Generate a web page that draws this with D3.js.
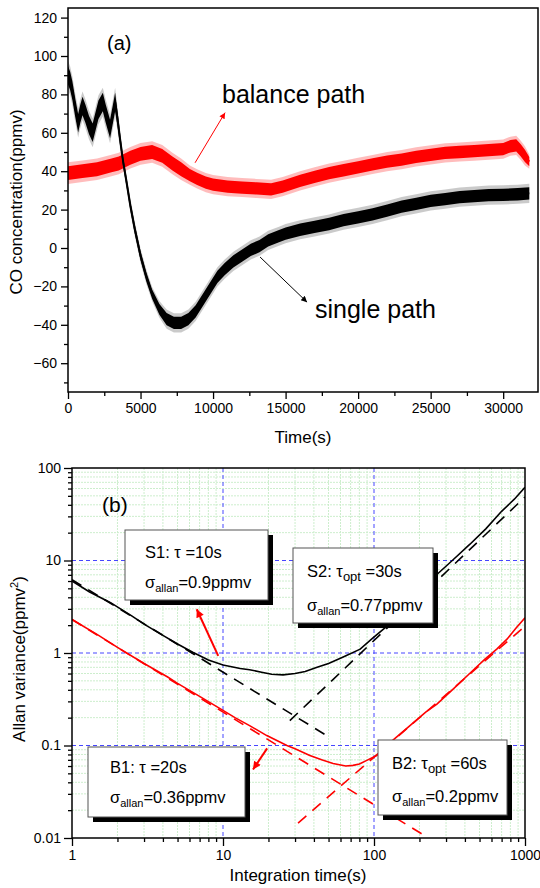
<!DOCTYPE html>
<html>
<head>
<meta charset="utf-8">
<script src="https://cdn.jsdelivr.net/npm/d3@7"></script>
<style>
  body { margin: 0; background: #fff; }
</style>
</head>
<body>
<div id="chart"></div>
<script>
// ---------- panel (a): CO concentration vs time ----------
// [time (s), centre of noisy trace (ppmv), half spread of noise band (ppmv)]
const singlePath = [
  [0, 90, 6], [150, 87, 6], [300, 82, 6], [500, 73, 6], [700, 65, 6], [850, 70, 6],
  [1000, 74, 6], [1200, 70, 6], [1450, 64, 6], [1700, 60, 6], [1900, 66, 6], [2100, 72, 6],
  [2400, 76, 6], [2600, 70, 6], [2900, 62, 6], [3100, 70, 6], [3250, 76, 6], [3400, 68, 5],
  [3600, 56, 4], [3800, 45, 3], [4000, 36, 3], [4300, 22, 3], [4600, 10, 3], [5000, -4, 3],
  [5400, -15, 3], [5800, -24, 3], [6300, -32, 3.5], [6800, -37, 4], [7300, -39, 4], [7800, -39, 4],
  [8300, -37, 4], [8800, -33, 4], [9300, -27, 4], [9800, -21, 4], [10300, -15, 4], [10800, -11, 4],
  [11400, -7, 4], [12000, -4, 4], [12600, -1, 4], [13200, 1, 4], [13800, 4, 4], [14500, 6, 4],
  [15000, 7.5, 4], [16000, 9.5, 4], [17000, 11, 4], [18000, 12.5, 4], [19000, 14.5, 4], [20000, 16, 4],
  [21000, 17.5, 4], [22000, 19.5, 4], [23000, 21.5, 4], [24000, 23, 4], [25000, 24.5, 4], [26000, 25.5, 4],
  [27000, 26.5, 4], [28000, 27, 4], [29000, 27.5, 4], [30000, 27.7, 4], [31000, 28, 4], [31800, 28.5, 4]
];
const balancePath = [
  [0, 39, 4.5], [1000, 40, 4.5], [2000, 41, 4.5], [3000, 43, 4.5], [3500, 44, 4.5], [4300, 47, 4.5],
  [5000, 49, 4.5], [5800, 50, 4.5], [6500, 48, 4.5], [7200, 44, 4.5], [7800, 41, 4.5], [8400, 38, 4],
  [8900, 36, 4], [9500, 34, 4], [10000, 33, 4], [11000, 32, 4], [12000, 31.5, 4], [13000, 31, 4],
  [14000, 30.5, 4], [14800, 32, 4], [16000, 35, 4], [17000, 37, 4], [18000, 39, 4], [19000, 40.5, 4],
  [20000, 42, 4], [21000, 43.5, 4], [22000, 45, 4], [23000, 46, 4], [24000, 47.5, 4], [25000, 48.5, 4],
  [26000, 49.5, 4], [27000, 50, 4], [28000, 50.5, 4], [29000, 51, 4], [30000, 51.5, 4], [30500, 53, 4],
  [30900, 53.5, 4], [31200, 51, 4], [31500, 48, 4], [31800, 45, 3]
];
const timeTicks = [0, 5000, 10000, 15000, 20000, 25000, 30000];
const concTicks = [-60, -40, -20, 0, 20, 40, 60, 80, 100, 120];

// ---------- panel (b): Allan variance ----------
// [integration time (s), Allan variance (ppmv^2)]
const singleAllan = [
  [1, 6.0], [1.3, 4.6], [1.8, 3.5], [2.5, 2.5], [3, 2.05], [4, 1.55], [5, 1.25], [6.3, 1.02],
  [8, 0.84], [10, 0.74], [13, 0.68], [15, 0.66], [18, 0.62], [21, 0.59], [25, 0.58], [30, 0.6],
  [35, 0.63], [42, 0.7], [50, 0.77], [62, 0.9], [81, 1.1], [98, 1.45], [122, 1.95], [150, 2.7],
  [200, 4.4], [262, 7.1], [330, 10], [432, 15], [550, 22], [700, 34], [850, 46], [1000, 62]
];
const balanceAllan = [
  [1, 2.3], [1.5, 1.55], [2, 1.15], [3, 0.77], [4.3, 0.55], [5, 0.47], [7, 0.34], [10, 0.24],
  [12, 0.2], [15, 0.164], [19.5, 0.128], [26.5, 0.1], [30, 0.092], [37.6, 0.078], [45, 0.07],
  [53.6, 0.064], [65, 0.06], [72.6, 0.061], [80, 0.063], [89.6, 0.069], [104, 0.078], [130, 0.11],
  [170, 0.16], [220, 0.23], [261, 0.28], [330, 0.4], [430, 0.6], [543, 0.86], [650, 1.1],
  [760, 1.41], [870, 1.85], [1000, 2.4]
];
// fitted slopes (dashed), end points
const singleFitWhite = [[1, 6.2], [51, 0.122]];
const singleFitDrift = [[27.7, 0.186], [1000, 48.6]];
const balanceFitWhite = [[1, 2.3], [225, 0.0102]];
const balanceFitDrift = [[31.4, 0.0145], [1000, 1.95]];
const tauTicks = [1, 10, 100, 1000];
const allanTicks = [0.01, 0.1, 1, 10, 100];

// box texts: each line is a list of [text, isSubscript]
const boxTexts = {
  S1: [[["S1: τ =10s", 0]], [["σ", 0], ["allan", 1], ["=0.9ppmv", 0]]],
  S2: [[["S2: τ", 0], ["opt", 1], [" =30s", 0]], [["σ", 0], ["allan", 1], ["=0.77ppmv", 0]]],
  B1: [[["B1: τ =20s", 0]], [["σ", 0], ["allan", 1], ["=0.36ppmv", 0]]],
  B2: [[["B2: τ", 0], ["opt", 1], [" =60s", 0]], [["σ", 0], ["allan", 1], ["=0.2ppmv", 0]]]
};

// ---------- layout ----------
const W = 540, H = 888;
const font = '"Liberation Sans", Arial, Helvetica, sans-serif';

const svg = d3.select("#chart").append("svg")
  .attr("width", W).attr("height", H)
  .attr("font-family", font);

const defs = svg.append("defs");
function marker(id, color, len, wid) {
  defs.append("marker")
    .attr("id", id)
    .attr("viewBox", "0 0 10 10")
    .attr("refX", 10).attr("refY", 5)
    .attr("markerUnits", "userSpaceOnUse")
    .attr("markerWidth", len).attr("markerHeight", wid)
    .attr("orient", "auto")
    .append("path").attr("d", "M0,0L10,5L0,10z").attr("fill", color);
}
marker("arrRedA", "#f00", 9, 6);
marker("arrBlkA", "#000", 9, 6);
marker("arrRedB", "#f00", 12, 8);

function styleAxis(g, size) {
  g.attr("font-family", font).attr("font-size", size);
  g.select(".domain").remove();
  g.selectAll(".tick line").attr("stroke", "#000").attr("stroke-width", 1.3);
  g.selectAll(".tick text").attr("fill", "#000");
}

// ================= panel (a) =================
const xa = d3.scaleLinear().domain([0, 32400]).range([68, 538]);
const ya = d3.scaleLinear().domain([-75, 125]).range([392, 8]);

defs.append("clipPath").attr("id", "clipA").append("rect")
  .attr("x", xa.range()[0]).attr("y", ya.range()[1])
  .attr("width", xa.range()[1] - xa.range()[0]).attr("height", ya.range()[0] - ya.range()[1]);

const band = k => d3.area()
  .x(d => xa(d[0]))
  .y0(d => ya(d[1] - d[2] * k))
  .y1(d => ya(d[1] + d[2] * k));
const centre = d3.line().x(d => xa(d[0])).y(d => ya(d[1]));

const gA = svg.append("g").attr("clip-path", "url(#clipA)");
[[balancePath, "#ff0000", "#ff4040"], [singlePath, "#000000", "#666666"]].forEach(([data, c, fringe]) => {
  gA.append("path").datum(data).attr("d", band(1.25)).attr("fill", fringe).attr("opacity", 0.35);
  gA.append("path").datum(data).attr("d", band(0.8)).attr("fill", c);
  gA.append("path").datum(data).attr("d", centre)
    .attr("fill", "none").attr("stroke", c).attr("stroke-width", 2);
});

svg.append("rect")
  .attr("x", 68).attr("y", 8).attr("width", 470).attr("height", 384)
  .attr("fill", "none").attr("stroke", "#000").attr("stroke-width", 1.5);

const minorConc = d3.range(-70, 125, 10).filter(v => !concTicks.includes(v));
const minorTime = d3.range(2500, 32400, 5000);

styleAxis(svg.append("g").attr("transform", "translate(68,0)")
  .call(d3.axisLeft(ya).tickValues(concTicks).tickSize(7).tickPadding(4).tickSizeOuter(0)), 14);
styleAxis(svg.append("g").attr("transform", "translate(68,0)")
  .call(d3.axisLeft(ya).tickValues(minorConc).tickSize(4).tickFormat("").tickSizeOuter(0)), 14);
styleAxis(svg.append("g").attr("transform", "translate(0,392)")
  .call(d3.axisBottom(xa).tickValues(timeTicks).tickSize(7).tickPadding(4).tickFormat(d3.format("d")).tickSizeOuter(0)), 14);
styleAxis(svg.append("g").attr("transform", "translate(0,392)")
  .call(d3.axisBottom(xa).tickValues(minorTime).tickSize(4).tickFormat("").tickSizeOuter(0)), 14);

svg.append("text").attr("transform", "translate(22,202) rotate(-90)")
  .attr("text-anchor", "middle").attr("font-size", 17).text("CO concentration(ppmv)");
svg.append("text").attr("x", 303).attr("y", 443)
  .attr("text-anchor", "middle").attr("font-size", 17).text("Time(s)");
svg.append("text").attr("x", 107).attr("y", 50).attr("font-size", 20).text("(a)");

svg.append("text").attr("x", 222).attr("y", 103).attr("font-size", 25).text("balance path");
svg.append("text").attr("x", 315).attr("y", 318).attr("font-size", 25).text("single path");

svg.append("line")
  .attr("x1", xa(8760)).attr("y1", ya(44.4)).attr("x2", xa(10830)).attr("y2", ya(70.5))
  .attr("stroke", "#f00").attr("stroke-width", 1).attr("marker-end", "url(#arrRedA)");
svg.append("line")
  .attr("x1", xa(13240)).attr("y1", ya(-4.7)).attr("x2", xa(16480)).attr("y2", ya(-28.2))
  .attr("stroke", "#000").attr("stroke-width", 1).attr("marker-end", "url(#arrBlkA)");

// ================= panel (b) =================
const xb = d3.scaleLog().domain([1, 1000]).range([72, 525]);
const yb = d3.scaleLog().domain([0.01, 100]).range([838, 468]);
const isDecade = v => Math.abs(Math.log10(v) - Math.round(Math.log10(v))) < 1e-6;

defs.append("clipPath").attr("id", "clipB").append("rect")
  .attr("x", 72).attr("y", 468).attr("width", 453).attr("height", 370);

const grid = svg.append("g");
const xAll = xb.ticks(), yAll = yb.ticks();
grid.selectAll(".gxm").data(xAll.filter(v => !isDecade(v))).join("line")
  .attr("x1", d => xb(d)).attr("x2", d => xb(d)).attr("y1", 468).attr("y2", 838)
  .attr("stroke", "#cdeecd").attr("stroke-width", 1).attr("stroke-dasharray", "2,1");
grid.selectAll(".gym").data(yAll.filter(v => !isDecade(v))).join("line")
  .attr("y1", d => yb(d)).attr("y2", d => yb(d)).attr("x1", 72).attr("x2", 525)
  .attr("stroke", "#cdeecd").attr("stroke-width", 1).attr("stroke-dasharray", "2,1");
grid.selectAll(".gxM").data(tauTicks.slice(1, -1)).join("line")
  .attr("x1", d => xb(d)).attr("x2", d => xb(d)).attr("y1", 468).attr("y2", 838)
  .attr("stroke", "#4646ff").attr("stroke-width", 1).attr("stroke-dasharray", "4,3");
grid.selectAll(".gyM").data(allanTicks.slice(1, -1)).join("line")
  .attr("y1", d => yb(d)).attr("y2", d => yb(d)).attr("x1", 72).attr("x2", 525)
  .attr("stroke", "#4646ff").attr("stroke-width", 1).attr("stroke-dasharray", "4,3");

const gB = svg.append("g").attr("clip-path", "url(#clipB)");
const lineB = d3.line().x(d => xb(d[0])).y(d => yb(d[1]));
[[singleFitWhite, "#000"], [singleFitDrift, "#000"], [balanceFitWhite, "#f00"], [balanceFitDrift, "#f00"]]
  .forEach(([data, c]) => {
    gB.append("path").datum(data).attr("d", lineB)
      .attr("fill", "none").attr("stroke", c).attr("stroke-width", 1.6).attr("stroke-dasharray", "11,8");
  });
[[singleAllan, "#000"], [balanceAllan, "#f00"]].forEach(([data, c]) => {
  gB.append("path").datum(data).attr("d", lineB)
    .attr("fill", "none").attr("stroke", c).attr("stroke-width", 1.6);
});

svg.append("rect")
  .attr("x", 72).attr("y", 468).attr("width", 453).attr("height", 370)
  .attr("fill", "none").attr("stroke", "#000").attr("stroke-width", 1.5);

styleAxis(svg.append("g").attr("transform", "translate(72,0)")
  .call(d3.axisLeft(yb).tickValues(allanTicks).tickSize(8).tickPadding(3).tickFormat(d => String(d)).tickSizeOuter(0)), 14);
styleAxis(svg.append("g").attr("transform", "translate(72,0)")
  .call(d3.axisLeft(yb).tickValues(yAll.filter(v => !isDecade(v))).tickSize(4).tickFormat("").tickSizeOuter(0)), 14);
styleAxis(svg.append("g").attr("transform", "translate(0,838)")
  .call(d3.axisBottom(xb).tickValues(tauTicks).tickSize(8).tickPadding(4).tickFormat(d => String(d)).tickSizeOuter(0)), 14);
styleAxis(svg.append("g").attr("transform", "translate(0,838)")
  .call(d3.axisBottom(xb).tickValues(xAll.filter(v => !isDecade(v))).tickSize(4).tickFormat("").tickSizeOuter(0)), 14);

const yT = svg.append("text").attr("transform", "translate(25,659) rotate(-90)")
  .attr("text-anchor", "middle").attr("font-size", 17);
yT.append("tspan").text("Allan variance(ppmv");
yT.append("tspan").attr("font-size", 11).attr("dy", -7).text("2");
yT.append("tspan").attr("dy", 7).text(")");
svg.append("text").attr("x", 298).attr("y", 881)
  .attr("text-anchor", "middle").attr("font-size", 17).text("Integration time(s)");
svg.append("text").attr("x", 102).attr("y", 512).attr("font-size", 21).text("(b)");

// arrows pointing from curves to boxes
svg.append("line")
  .attr("x1", xb(9.3)).attr("y1", yb(0.93)).attr("x2", xb(6.7)).attr("y2", yb(2.97))
  .attr("stroke", "#f00").attr("stroke-width", 2).attr("marker-end", "url(#arrRedB)");
svg.append("line")
  .attr("x1", xb(19.6)).attr("y1", yb(0.093)).attr("x2", xb(15.8)).attr("y2", yb(0.055))
  .attr("stroke", "#f00").attr("stroke-width", 2).attr("marker-end", "url(#arrRedB)");

// annotation boxes (pixel layout)
const boxLayout = {
  S1: { x: 125, y: 530, w: 143, h: 70, tx: 20, b: [28, 58] },
  S2: { x: 293, y: 548, w: 140, h: 75, tx: 14, b: [29, 63] },
  B1: { x: 88, y: 747, w: 157, h: 70, tx: 22, b: [26, 56] },
  B2: { x: 378, y: 740, w: 129, h: 75, tx: 14, b: [29, 62] }
};
Object.keys(boxLayout).forEach(k => {
  const L = boxLayout[k];
  const g = svg.append("g").attr("transform", `translate(${L.x},${L.y})`);
  g.append("rect").attr("x", 5).attr("y", 5).attr("width", L.w).attr("height", L.h).attr("fill", "#000");
  g.append("rect").attr("width", L.w).attr("height", L.h)
    .attr("fill", "#fff").attr("stroke", "#555").attr("stroke-width", 1);
  boxTexts[k].forEach((line, i) => {
    const t = g.append("text").attr("x", L.tx).attr("y", L.b[i]).attr("font-size", 16.5);
    let shifted = false;
    line.forEach(([s, sub]) => {
      const sp = t.append("tspan").text(s);
      if (sub && !shifted) { sp.attr("font-size", i === 0 ? 13 : 11).attr("dy", 4); shifted = true; }
      else if (!sub && shifted) { sp.attr("dy", -4); shifted = false; }
    });
  });
});
</script>
</body>
</html>
